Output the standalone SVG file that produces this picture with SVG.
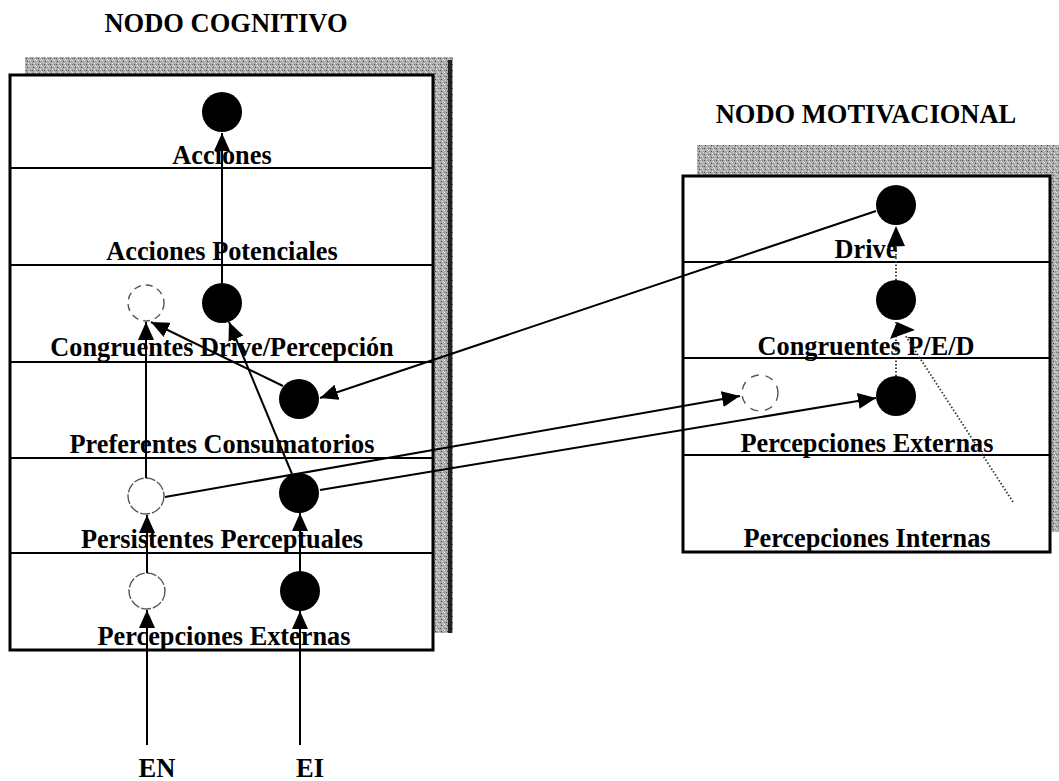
<svg xmlns="http://www.w3.org/2000/svg" width="1059" height="781" viewBox="0 0 1059 781">
  <style>
    .title { font-family: "Liberation Serif", "Times New Roman", serif; font-weight: bold; font-size: 26.5px; fill: #000; text-anchor: middle; }
    .lbl { font-family: "Liberation Serif", "Times New Roman", serif; font-weight: bold; font-size: 26.3px; fill: #000; text-anchor: middle; }
    .frame { fill: #fff; stroke: #000; stroke-width: 3; }
    .row { stroke: #000; stroke-width: 2; }
    .shadow { fill: url(#grain); }
    .full { fill: #000; }
    .empty { fill: #fff; stroke: #555; stroke-width: 1.4; }
    .link { stroke: #000; stroke-width: 2; fill: none; marker-end: url(#head); }
    .dot { stroke: #333; stroke-width: 1.8; stroke-dasharray: 1.5 2; fill: none; }
  </style>
  <defs>
    <pattern id="grain" width="6" height="6" patternUnits="userSpaceOnUse">
      <rect width="6" height="6" fill="#aaa"/>
      <rect x="0" y="0" width="1" height="1" fill="#eee"/>
      <rect x="3" y="1" width="1" height="1" fill="#444"/>
      <rect x="1" y="2" width="1" height="1" fill="#ddd"/>
      <rect x="4" y="3" width="1" height="1" fill="#f4f4f4"/>
      <rect x="2" y="4" width="1" height="1" fill="#555"/>
      <rect x="5" y="5" width="1" height="1" fill="#e6e6e6"/>
      <rect x="0" y="4" width="1" height="1" fill="#777"/>
      <rect x="4" y="0" width="1" height="1" fill="#ccc"/>
    </pattern>
    <marker id="head" viewBox="0 0 18 16" refX="18" refY="8" markerWidth="18" markerHeight="16" markerUnits="userSpaceOnUse" orient="auto">
      <path d="M0,0 L18,8 L0,16 Z" fill="#000"/>
    </marker>
  </defs>

  <rect width="1059" height="781" fill="#fff"/>

  <!-- cognitive node: shadow, frame, layers -->
  <g id="nodo-cognitivo">
    <text class="title" x="226" y="32">NODO COGNITIVO</text>
    <rect class="shadow" x="25" y="57" width="428" height="576"/>
    <line x1="450" y1="60" x2="450" y2="633" stroke="#222" stroke-width="4"/>
    <rect class="frame" x="10" y="75" width="423" height="575"/>
    <line class="row" x1="10" y1="168" x2="433" y2="168"/>
    <line class="row" x1="10" y1="265" x2="433" y2="265"/>
    <line class="row" x1="10" y1="362" x2="433" y2="362"/>
    <line class="row" x1="10" y1="458" x2="433" y2="458"/>
    <line class="row" x1="10" y1="553" x2="433" y2="553"/>
    <text class="lbl" x="222" y="164">Acciones</text>
    <text class="lbl" x="222" y="260">Acciones Potenciales</text>
    <text class="lbl" x="222" y="356">Congruentes Drive/Percepción</text>
    <text class="lbl" x="222" y="453">Preferentes Consumatorios</text>
    <text class="lbl" x="222" y="548">Persistentes Perceptuales</text>
    <text class="lbl" x="224" y="645">Percepciones Externas</text>
  </g>

  <!-- motivational node: shadow, frame, layers -->
  <g id="nodo-motivacional">
    <text class="title" x="866" y="123">NODO MOTIVACIONAL</text>
    <rect class="shadow" x="697" y="145" width="375" height="387"/>
    <rect class="frame" x="683" y="176" width="367" height="376"/>
    <line class="row" x1="683" y1="262" x2="1050" y2="262"/>
    <line class="row" x1="683" y1="358" x2="1050" y2="358"/>
    <line class="row" x1="683" y1="455" x2="1050" y2="455"/>
    <text class="lbl" x="866" y="258">Drive</text>
    <text class="lbl" x="866" y="355">Congruentes P/E/D</text>
    <text class="lbl" x="867" y="452">Percepciones Externas</text>
    <text class="lbl" x="867" y="547">Percepciones Internas</text>
  </g>

  <!-- inputs -->
  <g id="entradas">
    <text class="title" x="157" y="777">EN</text>
    <text class="title" x="310" y="777">EI</text>
  </g>

  <!-- unit circles -->
  <g id="c-acciones"><circle class="full" cx="222" cy="112" r="20"/></g>
  <g id="c-congruentes-n"><circle class="empty" cx="146" cy="303" r="18" stroke-dasharray="7 5"/></g>
  <g id="c-congruentes-i"><circle class="full" cx="222" cy="303" r="20"/></g>
  <g id="c-preferentes"><circle class="full" cx="299" cy="399" r="20"/></g>
  <g id="c-persistentes-n"><circle class="empty" cx="146" cy="496" r="18" stroke-dasharray="10 2"/></g>
  <g id="c-persistentes-i"><circle class="full" cx="299" cy="493" r="20"/></g>
  <g id="c-externas-n"><circle class="empty" cx="147" cy="591" r="18" stroke-dasharray="10 2"/></g>
  <g id="c-externas-i"><circle class="full" cx="300" cy="591" r="20"/></g>
  <g id="c-drive"><circle class="full" cx="896" cy="205" r="20"/></g>
  <g id="c-ped"><circle class="full" cx="896" cy="300" r="20"/></g>
  <g id="c-mot-externas-n"><circle class="empty" cx="760" cy="393" r="18" stroke-dasharray="8 7"/></g>
  <g id="c-mot-externas-i"><circle class="full" cx="896" cy="396" r="20"/></g>

  <!-- connectors -->
  <g id="conectores">
    <line class="link" x1="147" y1="745" x2="147" y2="610"/>
    <line class="link" x1="300" y1="745" x2="300" y2="611"/>
    <line class="link" x1="147" y1="573" x2="147" y2="515"/>
    <line class="link" x1="300" y1="571" x2="300" y2="513"/>
    <line class="link" x1="146" y1="478" x2="146" y2="322"/>
    <line class="link" x1="292" y1="474" x2="229" y2="322"/>
    <line class="link" x1="283" y1="386" x2="151" y2="322"/>
    <line class="link" x1="222" y1="283" x2="222" y2="133"/>
    <line class="link" x1="876" y1="211" x2="320" y2="398"/>
    <line class="link" x1="165" y1="497" x2="740" y2="396"/>
    <line class="link" x1="320" y1="490" x2="876" y2="398"/>
    <line class="dot" x1="896" y1="280" x2="896" y2="246"/>
    <path d="M887,247 L896,226 L905,246 Z" fill="#000"/>
    <line class="dot" x1="896" y1="376" x2="896" y2="322"/>
    <line class="dot" x1="1013" y1="502" x2="905" y2="335"/>
    <path d="M897,322 L915,330 L890,339 Z" fill="#000"/>
  </g>
</svg>
